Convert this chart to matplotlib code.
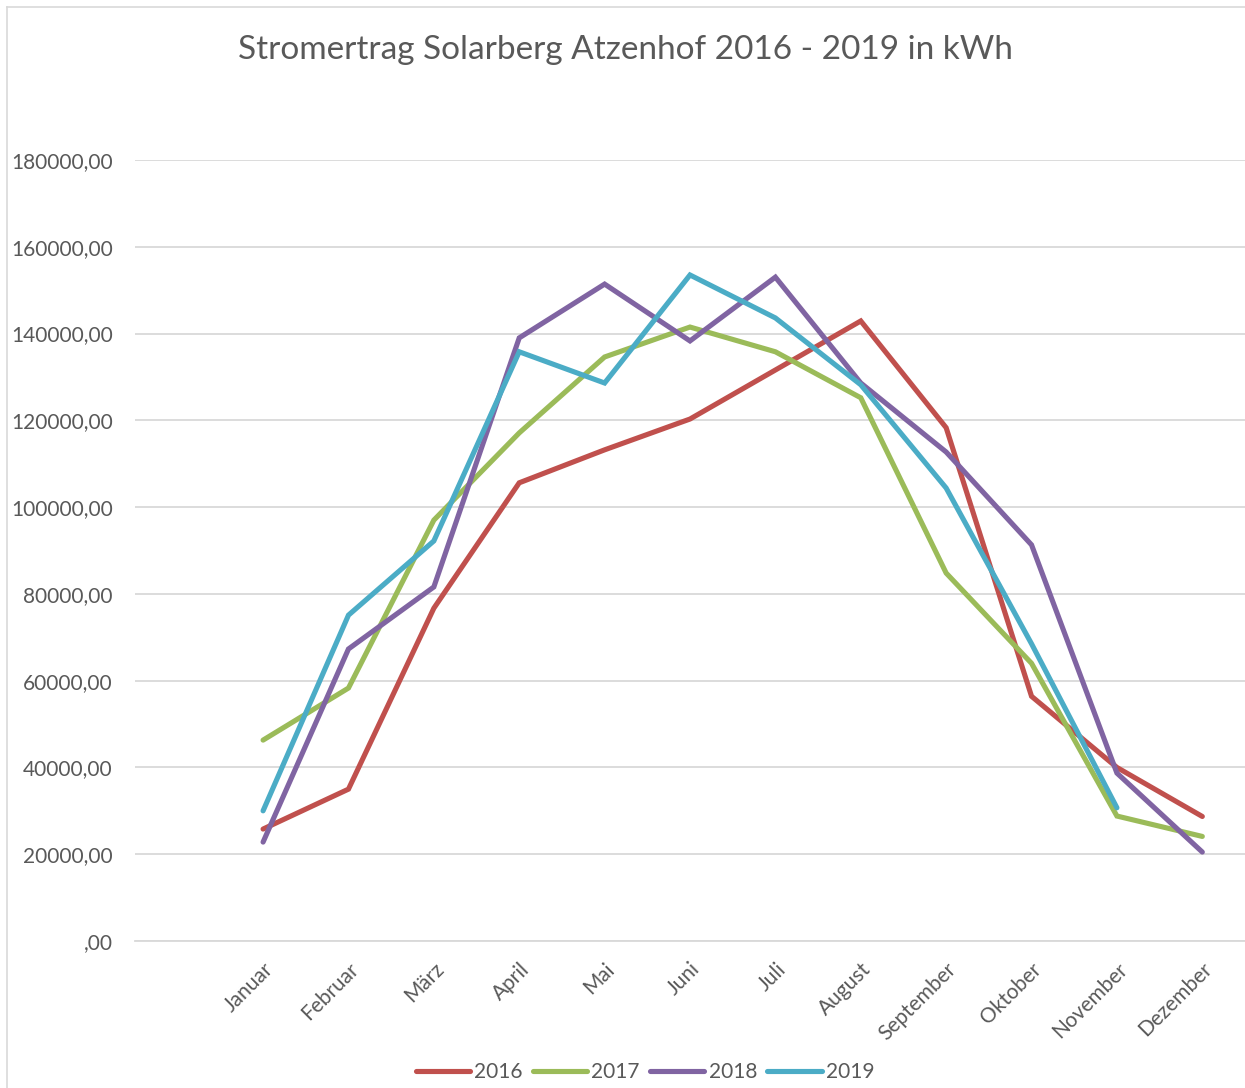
import matplotlib
matplotlib.use("Agg")
import matplotlib.pyplot as plt
from matplotlib.lines import Line2D
from matplotlib.ticker import FuncFormatter, MultipleLocator

months = ["Januar", "Februar", "März", "April", "Mai", "Juni", "Juli",
          "August", "September", "Oktober", "November", "Dezember"]
v2016 = [25800, 35000, 76700, 105600, 113200, 120300, 131600, 142900, 118300, 56400, 40000, 28700]
v2017 = [46300, 58300, 97000, 117100, 134600, 141500, 135800, 125200, 84800, 64000, 28800, 24100]
v2018 = [22800, 67300, 81600, 139000, 151400, 138300, 153000, 128600, 112700, 91300, 38700, 20500]
v2019 = [30000, 75100, 92200, 135800, 128600, 153500, 143600, 128200, 104400, 68500, 30700]
years = ["2016", "2017", "2018", "2019"]
colors = ["#C0504D", "#9BBB59", "#8064A2", "#4BACC6"]

plt.rcParams['font.family'] = ['Lato', 'DejaVu Sans']

fig = plt.figure(figsize=(12.45, 10.88), dpi=100)
ax = fig.add_axes([135/1245, 1-941/1088, 1110/1245, (941-160)/1088])

x = list(range(len(months)))
for vals, c, lab in zip([v2016, v2017, v2018, v2019], colors, years):
    ax.plot(x[:len(vals)], vals, color=c, lw=3.7, label=lab, solid_capstyle='round', solid_joinstyle='miter')

ax.set_xlim(-1.5, 11.5)
ax.set_ylim(0, 180000)
ax.yaxis.set_major_locator(MultipleLocator(20000))
ax.yaxis.set_major_formatter(FuncFormatter(lambda v, p: ("%d,00" % v) if v > 0 else ",00"))
ax.grid(axis='y', color='#D9D9D9', lw=1.3)
ax.set_axisbelow(True)
for s in ['top', 'right', 'left']:
    ax.spines[s].set_visible(False)
ax.spines['bottom'].set_color('#D9D9D9')
ax.spines['bottom'].set_linewidth(1.3)
ax.tick_params(axis='both', length=0, labelsize=15, labelcolor='#595959')
ax.tick_params(axis='y', pad=16)
ax.set_xticks(x)
ax.set_xticklabels(months, rotation=45, ha='right', va='top', rotation_mode='anchor')
ax.tick_params(axis='x', pad=13)

fig.text(625/1245, 1-50/1088, "Stromertrag Solarberg Atzenhof 2016 - 2019 in kWh",
         ha='center', va='center', fontsize=24, color='#595959')

handles = [Line2D([0], [0], color=c, lw=3.7, solid_capstyle='round') for c in colors]
fig.legend(handles, years, loc='center', bbox_to_anchor=(645/1245, 1-1072/1088), ncol=4,
           frameon=False, fontsize=15, labelcolor='#595959', handlelength=2.6,
           handletextpad=0.2, columnspacing=0.5, borderaxespad=0)

fig.add_artist(Line2D([7/1245, 7/1245], [0, 1-7/1088], color='#D9D9D9', lw=1.2))
fig.add_artist(Line2D([7/1245, 1], [1-7/1088, 1-7/1088], color='#D9D9D9', lw=1.2))

fig.savefig("out.png", dpi=100)
